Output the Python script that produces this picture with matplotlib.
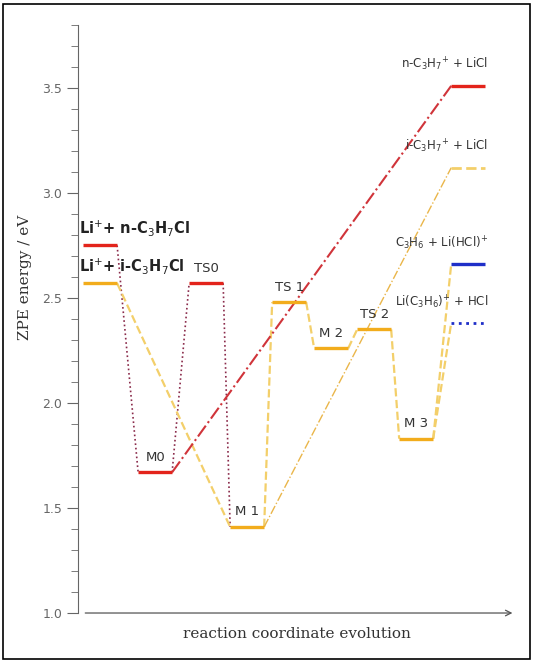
import matplotlib.pyplot as plt
from matplotlib.ticker import MultipleLocator

# energy levels (eV)
level_names = ["R_n", "R_i", "M0", "TS0", "M1", "TS1", "M2", "TS2", "M3",
               "P_C3H6", "P_LiC3H6", "P_nC3H7", "P_iC3H7"]
energies = [2.75, 2.57, 1.67, 2.57, 1.41, 2.48, 2.26, 2.35, 1.83,
            2.66, 2.38, 3.51, 3.12]
level_labels = ["Li$^{+}$+ n-C$_3$H$_7$Cl", "Li$^{+}$+ i-C$_3$H$_7$Cl",
                "M0", "TS0", "M 1", "TS 1", "M 2", "TS 2", "M 3",
                "C$_3$H$_6$ + Li(HCl)$^{+}$", "Li(C$_3$H$_6$)$^{+}$ + HCl",
                "n-C$_3$H$_7$$^{+}$ + LiCl", "i-C$_3$H$_7$$^{+}$ + LiCl"]

# horizontal slot of each level (left edge) and bar width, in axis units
slot = {"R_n": 5, "R_i": 5, "M0": 60, "TS0": 111, "M1": 152, "TS1": 194,
        "M2": 236, "TS2": 279, "M3": 321,
        "P_C3H6": 373, "P_LiC3H6": 373, "P_nC3H7": 373, "P_iC3H7": 373}
W = 34

RED = "#e3241b"
ORANGE = "#f2ac1c"
LIGHT = "#f3cf6a"
MAROON = "#8a2a4a"
BLUE = "#1f2fc8"

level_style = {
    "R_n": (RED, "-"), "R_i": (ORANGE, "-"), "M0": (RED, "-"), "TS0": (RED, "-"),
    "M1": (ORANGE, "-"), "TS1": (ORANGE, "-"), "M2": (ORANGE, "-"),
    "TS2": (ORANGE, "-"), "M3": (ORANGE, "-"), "P_C3H6": (BLUE, "-"),
    "P_LiC3H6": (BLUE, ":"), "P_nC3H7": (RED, "-"), "P_iC3H7": (LIGHT, "--"),
}

# connections: (from, to, color, linestyle, lw)
links = [
    ("R_n", "M0", MAROON, ":", 1.2),
    ("M0", "TS0", MAROON, ":", 1.2),
    ("TS0", "M1", MAROON, ":", 1.2),
    ("R_i", "M1", LIGHT, "--", 1.6),
    ("M1", "TS1", LIGHT, "--", 1.6),
    ("TS1", "M2", LIGHT, "--", 1.6),
    ("M2", "TS2", LIGHT, "--", 1.6),
    ("TS2", "M3", LIGHT, "--", 1.6),
    ("M3", "P_C3H6", LIGHT, "--", 1.6),
    ("M3", "P_LiC3H6", LIGHT, "--", 1.6),
    ("M0", "P_nC3H7", "#d0343a", "-.", 1.5),
    ("M1", "P_iC3H7", "#eab64a", "-.", 1.0),
]

E = dict(zip(level_names, energies))
L = dict(zip(level_names, level_labels))

fig = plt.figure(figsize=(5.35, 6.63), dpi=100)
ax = fig.add_axes([0.146, 0.0754, 0.817, 0.887])
ax.set_xlim(0, 437)
ax.set_ylim(1.0, 3.8)

for a, b, c, ls, lw in links:
    ax.plot([slot[a] + W, slot[b]], [E[a], E[b]], color=c, ls=ls, lw=lw, zorder=1)

for n in level_names:
    c, ls = level_style[n]
    lw = 2.4 if ls == "-" else 2.0
    ax.plot([slot[n], slot[n] + W], [E[n], E[n]], color=c, ls=ls, lw=lw,
            solid_capstyle="butt", zorder=2)

# labels
ax.text(slot["R_n"] - 4, E["R_n"] + 0.035, L["R_n"], fontsize=10.5,
        fontweight="bold", color="#222222", va="bottom")
ax.text(slot["R_i"] - 4, E["R_i"] + 0.035, L["R_i"], fontsize=10.5,
        fontweight="bold", color="#222222", va="bottom")
for n in ["M0", "TS0", "M1", "TS1", "M2", "TS2", "M3"]:
    ax.text(slot[n] + W / 2, E[n] + 0.04, L[n], fontsize=9.5, color="#333333",
            ha="center", va="bottom")
for n in ["P_nC3H7", "P_iC3H7", "P_C3H6", "P_LiC3H6"]:
    ax.text(slot[n] + W + 3, E[n] + 0.06, L[n], fontsize=8.5, color="#333333",
            ha="right", va="bottom")

# axes styling
for s in ["top", "right", "bottom"]:
    ax.spines[s].set_visible(False)
ax.spines["left"].set_color("#666666")
ax.spines["left"].set_linewidth(0.8)
ax.set_xticks([])
ax.yaxis.set_major_locator(MultipleLocator(0.5))
ax.yaxis.set_minor_locator(MultipleLocator(0.1))
ax.tick_params(axis="y", which="major", length=8, color="#666666",
               labelcolor="#666666", labelsize=9)
ax.tick_params(axis="y", which="minor", length=5, color="#666666")
ax.yaxis.set_major_formatter(plt.FormatStrFormatter("%.1f"))

ax.annotate("", xy=(1.0, 0), xytext=(0.01, 0), xycoords="axes fraction",
            arrowprops=dict(arrowstyle="->", color="#555555", lw=0.9))

ax.set_ylabel("ZPE energy / eV", family="DejaVu Serif", fontsize=11,
              color="#333333")
ax.yaxis.set_label_coords(-0.105, 0.57)
ax.set_xlabel("reaction coordinate evolution", family="DejaVu Serif",
              fontsize=11, color="#333333", labelpad=10)

fig.patches.append(plt.Rectangle((0.006, 0.006), 0.985, 0.988,
                                 transform=fig.transFigure, fill=False,
                                 edgecolor="black", lw=1.2))

fig.savefig("out.png", dpi=100)
